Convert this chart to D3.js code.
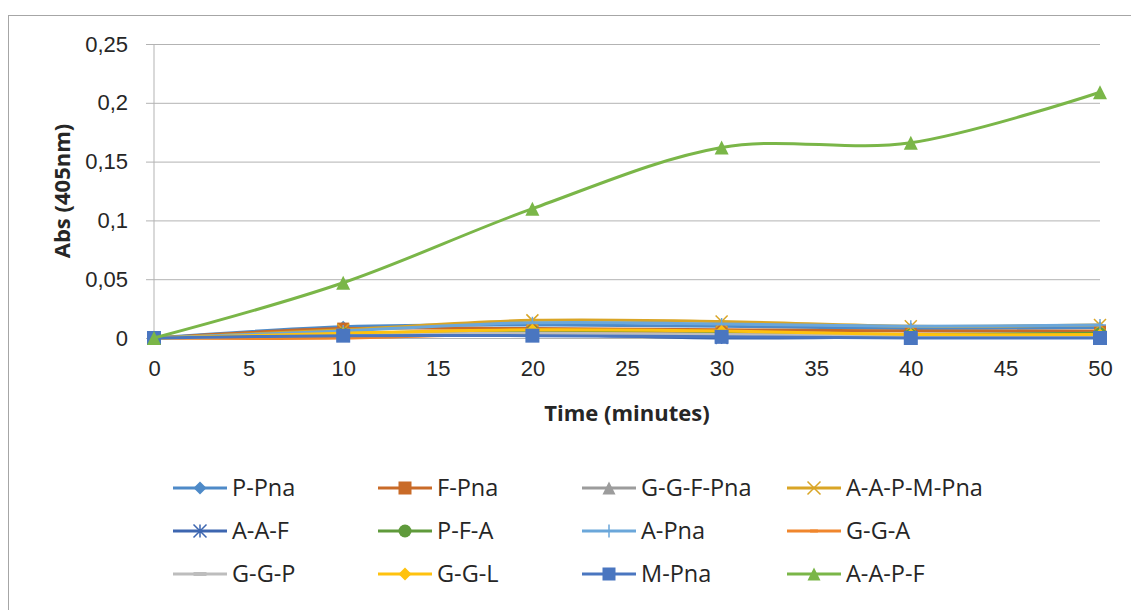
<!DOCTYPE html>
<html>
<head>
<meta charset="utf-8">
<script src="https://cdnjs.cloudflare.com/ajax/libs/d3/7.9.0/d3.min.js"></script>
<style>
  html, body { margin: 0; padding: 0; background: #fff; }
  svg { display: block; font-family: "Open Sans", "Noto Sans", sans-serif; }
</style>
</head>
<body>
<div id="chart"></div>
<script>
// Absorbance over time, one series per substrate
const times = [0, 10, 20, 30, 40, 50];
const xTicks = [0, 5, 10, 15, 20, 25, 30, 35, 40, 45, 50];
const yTicks = [0, 0.05, 0.1, 0.15, 0.2, 0.25];

const seriesNames = ['P-Pna', 'F-Pna', 'G-G-F-Pna', 'A-A-P-M-Pna',
                     'A-A-F', 'P-F-A', 'A-Pna', 'G-G-A',
                     'G-G-P', 'G-G-L', 'M-Pna', 'A-A-P-F'];

const pPna    = [0, 0.0095, 0.011, 0.010, 0.008, 0.009];
const fPna    = [0, 0.008, 0.008, 0.007, 0.006, 0.006];
const ggfPna  = [0, 0.004, 0.005, 0.004, 0.003, 0.004];
const aapmPna = [0, 0.007, 0.015, 0.014, 0.010, 0.011];
const aaf     = [0, 0.002, 0.003, 0.000, 0.001, 0.001];
const pfa     = [0, 0.004, 0.006, 0.004, 0.003, 0.004];
const aPna    = [0, 0.006, 0.013, 0.012, 0.010, 0.011];
const gga     = [0, 0.000, 0.004, 0.003, 0.001, 0.002];
const ggp     = [0, 0.003, 0.004, 0.003, 0.002, 0.002];
const ggl     = [0, 0.004, 0.007, 0.006, 0.003, 0.003];
const mPna    = [0, 0.002, 0.002, 0.001, 0.000, 0.000];
const aapf    = [0, 0.047, 0.110, 0.162, 0.166, 0.209];

const seriesValues = [pPna, fPna, ggfPna, aapmPna, aaf, pfa, aPna, gga, ggp, ggl, mPna, aapf];

const colors = ['#4e8ac8', '#c96b28', '#9c9c9c', '#d9a526',
                '#3d66b0', '#5f9a3b', '#6ba7da', '#f0862c',
                '#bdbdbd', '#ffc20e', '#4a76c0', '#7ab648'];
const markers = ['diamond', 'square', 'triangle', 'x',
                 'star', 'circle', 'plus', 'dash',
                 'longdash', 'diamond', 'square', 'triangle'];

const W = 1131, H = 610;
const margin = { left: 154, right: 31, top: 44, bottom: 272 };
const fontSize = '22px';

const svg = d3.select('#chart').append('svg')
  .attr('width', W).attr('height', H);

// outer chart border (runs off the right and bottom edges)
svg.append('rect')
  .attr('x', 8.5).attr('y', 15.5)
  .attr('width', W).attr('height', H)
  .attr('fill', 'none').attr('stroke', '#a6a6a6').attr('stroke-width', 1);

const x = d3.scaleLinear().domain([0, 50]).range([margin.left, W - margin.right]);
const y = d3.scaleLinear().domain([0, 0.25]).range([H - margin.bottom, margin.top]);

const fmt = v => d3.format('.2~f')(v).replace('.', ',');

// gridlines + y ticks
const yAxis = d3.axisLeft(y).tickValues(yTicks).tickFormat(fmt)
  .tickSize(-(x(50) - x(0))).tickPadding(26);
const gy = svg.append('g').attr('transform', `translate(${x(0)},0)`).call(yAxis);
gy.select('.domain').remove();
gy.selectAll('.tick line').attr('stroke', '#b3b3b3').attr('x1', -8);
gy.selectAll('.tick text').attr('fill', '#262626').style('font-size', fontSize);

svg.append('line')
  .attr('x1', x(0)).attr('x2', x(0)).attr('y1', y(0.25)).attr('y2', y(0))
  .attr('stroke', '#b3b3b3');

const xAxis = d3.axisBottom(x).tickValues(xTicks).tickSize(0).tickPadding(22);
const gx = svg.append('g').attr('transform', `translate(0,${y(0)})`).call(xAxis);
gx.select('.domain').remove();
gx.selectAll('.tick text').attr('fill', '#262626').style('font-size', fontSize);

// axis titles
svg.append('text')
  .attr('transform', `translate(62,${(y(0) + y(0.25)) / 2}) rotate(-90)`)
  .attr('text-anchor', 'middle').attr('dy', '0.35em')
  .style('font-size', fontSize).style('font-weight', 'bold').attr('fill', '#262626')
  .text('Abs (405nm)');
svg.append('text')
  .attr('x', 627).attr('y', 413).attr('dy', '0.35em')
  .attr('text-anchor', 'middle')
  .style('font-size', fontSize).style('font-weight', 'bold').attr('fill', '#262626')
  .text('Time (minutes)');

function drawMarker(g, type, color, s) {
  const h = s / 2;
  if (type === 'diamond') {
    g.append('path').attr('d', `M0,${-h}L${h},0L0,${h}L${-h},0Z`).attr('fill', color);
  } else if (type === 'square') {
    g.append('rect').attr('x', -h).attr('y', -h).attr('width', s).attr('height', s).attr('fill', color);
  } else if (type === 'triangle') {
    g.append('path').attr('d', `M0,${-h}L${h},${h}L${-h},${h}Z`).attr('fill', color);
  } else if (type === 'circle') {
    g.append('circle').attr('r', h).attr('fill', color);
  } else if (type === 'x') {
    g.append('path').attr('d', `M${-h},${-h}L${h},${h}M${h},${-h}L${-h},${h}`)
      .attr('stroke', color).attr('stroke-width', 1.5);
  } else if (type === 'star') {
    g.append('path').attr('d', `M${-h},${-h}L${h},${h}M${h},${-h}L${-h},${h}M0,${-h}L0,${h}`)
      .attr('stroke', color).attr('stroke-width', 1.5);
  } else if (type === 'plus') {
    g.append('path').attr('d', `M${-h},0L${h},0M0,${-h}L0,${h}`)
      .attr('stroke', color).attr('stroke-width', 1.5);
  } else if (type === 'dash') {
    g.append('rect').attr('x', -h * 0.6).attr('y', -1.5).attr('width', s * 0.6).attr('height', 3).attr('fill', color);
  } else if (type === 'longdash') {
    g.append('rect').attr('x', -h).attr('y', -2).attr('width', s).attr('height', 4).attr('fill', color);
  }
}

const line = d3.line()
  .x((d, i) => x(times[i]))
  .y(d => y(d))
  .curve(d3.curveCardinal.tension(0));

const plot = svg.append('g');
seriesValues.forEach((vals, si) => {
  const g = plot.append('g');
  g.append('path')
    .attr('d', line(vals))
    .attr('fill', 'none')
    .attr('stroke', colors[si])
    .attr('stroke-width', 3)
    .attr('stroke-linejoin', 'round');
  vals.forEach((v, i) => {
    const m = g.append('g').attr('transform', `translate(${x(times[i])},${y(v)})`);
    drawMarker(m, markers[si], colors[si], si === 10 || si === 11 ? 14 : 12);
  });
});

// legend, 4 columns x 3 rows
const legCols = [173, 378, 582, 787];
const legRows = [488, 531, 574];
seriesNames.forEach((name, si) => {
  const lx = legCols[si % 4], ly = legRows[Math.floor(si / 4)];
  const g = svg.append('g').attr('transform', `translate(${lx},${ly})`);
  g.append('line').attr('x1', 0).attr('x2', 54).attr('y1', 0).attr('y2', 0)
    .attr('stroke', colors[si]).attr('stroke-width', 3);
  const m = g.append('g').attr('transform', 'translate(27,0)');
  drawMarker(m, markers[si], colors[si], 13);
  g.append('text').attr('x', 59).attr('y', 0).attr('dy', '0.35em')
    .style('font-size', '23.5px').attr('fill', '#262626').text(name);
});
</script>
</body>
</html>
